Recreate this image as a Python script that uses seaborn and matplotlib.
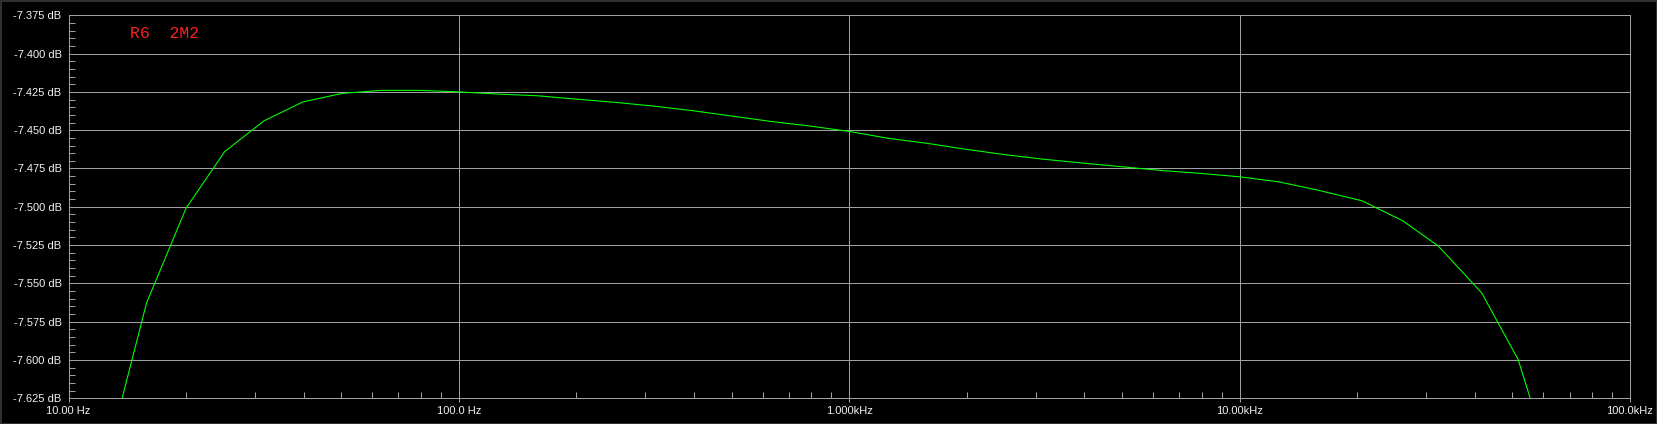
import numpy as np
import pandas as pd
import matplotlib
matplotlib.use("Agg")
import matplotlib.pyplot as plt
from matplotlib.ticker import FixedLocator, NullFormatter
from matplotlib.patches import Rectangle
import seaborn as sns

# ---- data ----
freq_hz = [12.59, 15.85, 20.0, 25.12, 31.62, 39.81, 50.12, 63.10, 79.43,
           100.0, 125.9, 158.5, 199.5, 251.2, 316.2, 398.1, 501.2, 631.0, 794.3,
           1000.0, 1259.0, 1585.0, 1995.0, 2512.0, 3162.0, 3981.0, 5012.0, 6310.0, 7943.0,
           10000.0, 12589.0, 15849.0, 20600.0, 26200.0, 32300.0, 41700.0, 51700.0, 63000.0]
gain_db = [-7.662, -7.5627, -7.501, -7.464, -7.444, -7.4316, -7.426, -7.4240, -7.4240,
           -7.4250, -7.4264, -7.4275, -7.4297, -7.4318, -7.4343, -7.4373, -7.4408, -7.4443, -7.4473,
           -7.4508, -7.4553, -7.4586, -7.4625, -7.4660, -7.4690, -7.4715, -7.4739, -7.4763, -7.4782,
           -7.4804, -7.4837, -7.4891, -7.4961, -7.5092, -7.5257, -7.5562, -7.5997, -7.670]

x_ticks = [10, 100, 1000, 10000, 100000]
x_tick_labels = ["10.00 Hz", "100.0 Hz", "1.000kHz", "10.00kHz", "100.0kHz"]
y_ticks = [-7.375, -7.400, -7.425, -7.450, -7.475, -7.500, -7.525,
           -7.550, -7.575, -7.600, -7.625]
y_tick_labels = ["-7.375 dB", "-7.400 dB", "-7.425 dB", "-7.450 dB", "-7.475 dB",
                 "-7.500 dB", "-7.525 dB", "-7.550 dB", "-7.575 dB", "-7.600 dB",
                 "-7.625 dB"]
trace_label = "R6  2M2"

df = pd.DataFrame({"freq": freq_hz, "gain": gain_db})

sns.set_theme(style="dark")
plt.rcParams["font.family"] = ["Liberation Sans", "DejaVu Sans"]

GRID = "#a0a0a0"
TXT = "#f2f2f2"
PX = 72.0 / 100.0  # points per pixel at dpi 100

fig = plt.figure(figsize=(16.57, 4.24), dpi=100, facecolor="black")
ax = fig.add_axes([68.5 / 1657, 25.7 / 424, (1630 - 68.5) / 1657, (398.3 - 15.3) / 424])
ax.set_facecolor("black")
ax.set_xscale("log")

sns.lineplot(data=df, x="freq", y="gain", ax=ax, color="#00ff00",
             linewidth=1.1 * PX, estimator=None, sort=False)

ax.set_xlim(10, 100000)
ax.set_ylim(-7.625, -7.375)

ax.xaxis.set_major_locator(FixedLocator(x_ticks))
ax.set_xticklabels(x_tick_labels)
minor_x = [m * d for d in [10, 100, 1000, 10000] for m in range(2, 10)]
ax.xaxis.set_minor_locator(FixedLocator(minor_x))
ax.xaxis.set_minor_formatter(NullFormatter())

ax.yaxis.set_major_locator(FixedLocator(y_ticks))
ax.set_yticklabels(y_tick_labels)
minor_y = [round(-7.625 + 0.005 * i, 3) for i in range(51) if i % 5 != 0]
ax.yaxis.set_minor_locator(FixedLocator(minor_y))
ax.yaxis.set_minor_formatter(NullFormatter())

ax.grid(True, which="major", color=GRID, linewidth=1.0 * PX)
ax.grid(False, which="minor")
for s in ax.spines.values():
    s.set_visible(True)
    s.set_color(GRID)
    s.set_linewidth(1.0 * PX)

ax.tick_params(axis="x", which="major", direction="out", length=4 * PX, width=1 * PX,
               color=GRID, labelcolor=TXT, labelsize=8, pad=4 * PX, bottom=True, top=False)
ax.tick_params(axis="y", which="major", length=0, labelcolor=TXT, labelsize=8,
               pad=7 * PX, left=True, right=False)
ax.tick_params(axis="x", which="minor", direction="in", length=6 * PX, width=1 * PX,
               color=GRID, bottom=True, top=False)
ax.tick_params(axis="y", which="minor", direction="in", length=6 * PX, width=1 * PX,
               color=GRID, left=True, right=False)
ax.set_xlabel("")
ax.set_ylabel("")

ax.text(130 / 1657, 1 - (33.5 / 424), trace_label, transform=fig.transFigure,
        color="#ff2020", fontsize=11.8, family=["Liberation Mono", "DejaVu Sans Mono"],
        ha="left", va="center")

fig.patches.append(Rectangle((0, 0), 1, 1, transform=fig.transFigure, fill=False,
                             edgecolor="#303030", linewidth=3 * PX, zorder=10))

fig.savefig("out.png", dpi=100, facecolor="black")
